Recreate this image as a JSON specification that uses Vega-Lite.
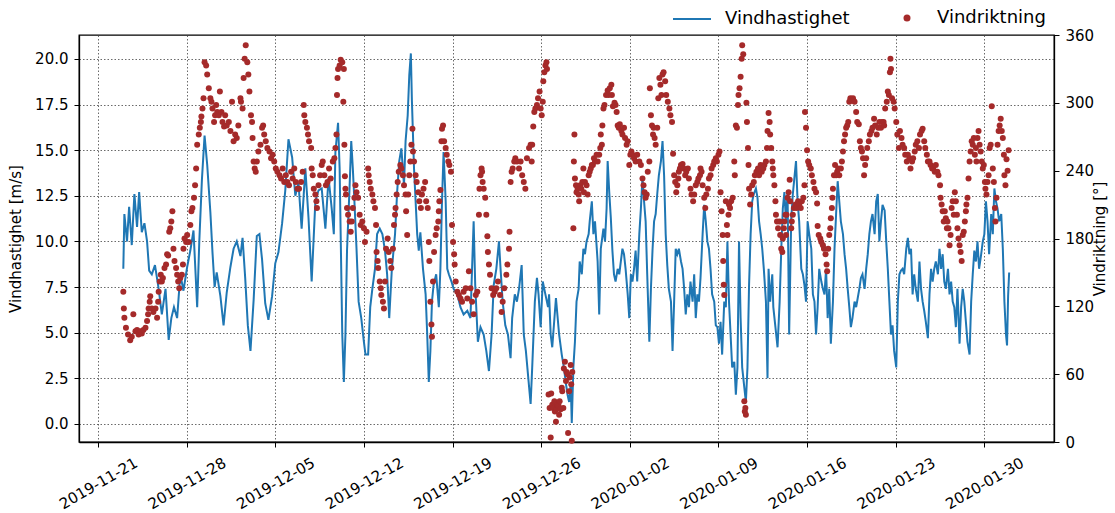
{
"$schema": "https://vega.github.io/schema/vega-lite/v6.json",
"width": 975, "height": 407,
"autosize": {"type": "none"},
"padding": {"left": 79, "top": 35, "right": 61, "bottom": 71},
"background": "white",
"config": {
 "font": "DejaVu Sans",
 "view": {"stroke": "black", "strokeWidth": 1.3},
 "axis": {"labelFont": "DejaVu Sans", "titleFont": "DejaVu Sans", "labelFontSize": 15, "titleFontSize": 15, "titleFontWeight": "normal", "labelColor": "#000", "titleColor": "#000", "tickColor": "#000", "domainColor": "#000", "domainWidth": 1.3, "tickSize": 5, "tickWidth": 1, "labelPadding": 6, "gridColor": "#444", "gridDash": [1.5, 2], "gridWidth": 0.8, "labelOverlap": false, "labelFlush": false},
 "legend": {"labelFont": "DejaVu Sans", "labelFontSize": 18, "labelColor": "#000", "padding": 0}
},
"datasets": {
"ws": [
{"t":"2019-11-23T00:00","v":8.5},{"t":"2019-11-23T02:00","v":11.5},{"t":"2019-11-23T07:00","v":10.0},{"t":"2019-11-23T11:00","v":11.9},{"t":"2019-11-23T16:00","v":9.8},{"t":"2019-11-23T21:00","v":12.6},
{"t":"2019-11-24T02:00","v":10.8},{"t":"2019-11-24T06:00","v":12.7},{"t":"2019-11-24T11:00","v":10.5},{"t":"2019-11-24T16:00","v":11.0},{"t":"2019-11-24T21:00","v":10.0},
{"t":"2019-11-25T01:00","v":8.4},{"t":"2019-11-25T06:00","v":8.2},{"t":"2019-11-25T12:00","v":8.7},{"t":"2019-11-25T19:00","v":7.4},
{"t":"2019-11-26T01:00","v":6.0},{"t":"2019-11-26T08:00","v":7.4},{"t":"2019-11-26T14:00","v":4.6},{"t":"2019-11-26T19:00","v":5.8},
{"t":"2019-11-27T00:00","v":6.4},{"t":"2019-11-27T06:00","v":5.8},{"t":"2019-11-27T12:00","v":8.2},{"t":"2019-11-27T18:00","v":7.3},
{"t":"2019-11-28T01:00","v":8.6},{"t":"2019-11-28T07:00","v":9.5},{"t":"2019-11-28T13:00","v":10.6},{"t":"2019-11-28T20:00","v":6.4},
{"t":"2019-11-29T00:00","v":10.0},{"t":"2019-11-29T05:00","v":13.4},{"t":"2019-11-29T10:00","v":15.8},{"t":"2019-11-29T15:00","v":14.2},{"t":"2019-11-29T21:00","v":11.6},
{"t":"2019-11-30T01:00","v":9.4},{"t":"2019-11-30T05:00","v":7.5},{"t":"2019-11-30T09:00","v":8.3},{"t":"2019-11-30T16:00","v":7.0},{"t":"2019-11-30T22:00","v":5.4},
{"t":"2019-12-01T04:00","v":7.2},{"t":"2019-12-01T11:00","v":8.6},{"t":"2019-12-01T17:00","v":9.6},{"t":"2019-12-01T23:00","v":10.0},
{"t":"2019-12-02T06:00","v":9.2},{"t":"2019-12-02T10:00","v":10.2},{"t":"2019-12-02T15:00","v":8.0},{"t":"2019-12-02T20:00","v":5.4},
{"t":"2019-12-03T01:00","v":4.0},{"t":"2019-12-03T07:00","v":6.8},{"t":"2019-12-03T13:00","v":10.3},{"t":"2019-12-03T18:00","v":10.4},{"t":"2019-12-03T23:00","v":9.0},
{"t":"2019-12-04T05:00","v":6.6},{"t":"2019-12-04T11:00","v":5.7},{"t":"2019-12-04T18:00","v":7.0},
{"t":"2019-12-05T00:00","v":8.8},{"t":"2019-12-05T06:00","v":9.4},{"t":"2019-12-05T13:00","v":11.0},{"t":"2019-12-05T19:00","v":12.8},
{"t":"2019-12-06T01:00","v":15.6},{"t":"2019-12-06T08:00","v":14.6},{"t":"2019-12-06T14:00","v":12.5},{"t":"2019-12-06T20:00","v":13.2},
{"t":"2019-12-07T02:00","v":10.7},{"t":"2019-12-07T09:00","v":14.0},{"t":"2019-12-07T15:00","v":11.3},{"t":"2019-12-07T21:00","v":7.8},
{"t":"2019-12-08T04:00","v":12.2},{"t":"2019-12-08T10:00","v":12.8},{"t":"2019-12-08T16:00","v":12.9},{"t":"2019-12-08T23:00","v":10.7},
{"t":"2019-12-09T05:00","v":13.5},{"t":"2019-12-09T11:00","v":11.8},{"t":"2019-12-09T15:00","v":10.4},{"t":"2019-12-09T18:00","v":14.9},{"t":"2019-12-09T23:00","v":16.5},
{"t":"2019-12-10T02:00","v":14.0},{"t":"2019-12-10T05:00","v":8.5},{"t":"2019-12-10T07:00","v":4.9},{"t":"2019-12-10T10:00","v":2.3},{"t":"2019-12-10T13:00","v":4.9},{"t":"2019-12-10T16:00","v":9.5},{"t":"2019-12-10T21:00","v":13.1},
{"t":"2019-12-11T00:00","v":15.5},{"t":"2019-12-11T03:00","v":14.0},{"t":"2019-12-11T06:00","v":12.2},{"t":"2019-12-11T10:00","v":9.6},{"t":"2019-12-11T14:00","v":6.7},{"t":"2019-12-11T19:00","v":5.8},
{"t":"2019-12-12T00:00","v":4.5},{"t":"2019-12-12T03:00","v":3.8},{"t":"2019-12-12T08:00","v":3.8},{"t":"2019-12-12T12:00","v":6.4},{"t":"2019-12-12T16:00","v":7.4},{"t":"2019-12-12T21:00","v":8.5},
{"t":"2019-12-13T01:00","v":10.4},{"t":"2019-12-13T06:00","v":10.7},{"t":"2019-12-13T11:00","v":10.4},{"t":"2019-12-13T16:00","v":9.5},{"t":"2019-12-13T20:00","v":8.2},
{"t":"2019-12-14T00:00","v":5.8},{"t":"2019-12-14T05:00","v":8.5},{"t":"2019-12-14T11:00","v":10.4},{"t":"2019-12-14T15:00","v":12.7},{"t":"2019-12-14T19:00","v":14.4},{"t":"2019-12-14T23:00","v":15.1},
{"t":"2019-12-15T04:00","v":13.1},{"t":"2019-12-15T07:00","v":15.5},{"t":"2019-12-15T11:00","v":16.9},{"t":"2019-12-15T14:00","v":19.1},{"t":"2019-12-15T17:00","v":20.3},{"t":"2019-12-15T19:00","v":17.7},{"t":"2019-12-15T23:00","v":14.0},
{"t":"2019-12-16T02:00","v":12.2},{"t":"2019-12-16T05:00","v":10.4},{"t":"2019-12-16T08:00","v":9.5},{"t":"2019-12-16T11:00","v":10.5},{"t":"2019-12-16T16:00","v":8.5},{"t":"2019-12-16T21:00","v":7.1},
{"t":"2019-12-17T00:00","v":4.9},{"t":"2019-12-17T03:00","v":2.3},{"t":"2019-12-17T06:00","v":4.0},{"t":"2019-12-17T09:00","v":6.7},{"t":"2019-12-17T12:00","v":7.6},{"t":"2019-12-17T17:00","v":8.2},{"t":"2019-12-17T22:00","v":6.4},
{"t":"2019-12-18T01:00","v":8.5},{"t":"2019-12-18T04:00","v":12.2},{"t":"2019-12-18T07:00","v":14.9},{"t":"2019-12-18T11:00","v":12.2},{"t":"2019-12-18T14:00","v":8.5},{"t":"2019-12-18T17:00","v":8.2},{"t":"2019-12-18T22:00","v":7.8},
{"t":"2019-12-19T02:00","v":7.4},{"t":"2019-12-19T09:00","v":7.1},{"t":"2019-12-19T15:00","v":6.4},{"t":"2019-12-19T21:00","v":6.0},
{"t":"2019-12-20T04:00","v":6.2},{"t":"2019-12-20T10:00","v":5.8},{"t":"2019-12-20T13:00","v":8.5},{"t":"2019-12-20T16:00","v":11.1},{"t":"2019-12-20T19:00","v":7.6},
{"t":"2019-12-21T00:00","v":4.5},{"t":"2019-12-21T05:00","v":5.3},{"t":"2019-12-21T11:00","v":4.9},{"t":"2019-12-21T16:00","v":4.0},{"t":"2019-12-21T21:00","v":2.9},
{"t":"2019-12-22T02:00","v":4.9},{"t":"2019-12-22T06:00","v":7.6},{"t":"2019-12-22T11:00","v":8.5},{"t":"2019-12-22T16:00","v":10.0},{"t":"2019-12-22T19:00","v":8.5},{"t":"2019-12-22T23:00","v":6.7},
{"t":"2019-12-23T04:00","v":5.4},{"t":"2019-12-23T09:00","v":4.9},{"t":"2019-12-23T14:00","v":3.6},{"t":"2019-12-23T17:00","v":5.8},{"t":"2019-12-23T22:00","v":7.1},
{"t":"2019-12-24T02:00","v":6.7},{"t":"2019-12-24T06:00","v":7.4},{"t":"2019-12-24T11:00","v":8.7},{"t":"2019-12-24T15:00","v":4.9},{"t":"2019-12-24T19:00","v":4.0},{"t":"2019-12-24T23:00","v":2.7},
{"t":"2019-12-25T04:00","v":1.1},{"t":"2019-12-25T07:00","v":3.1},{"t":"2019-12-25T12:00","v":6.7},{"t":"2019-12-25T16:00","v":8.0},{"t":"2019-12-25T19:00","v":7.1},{"t":"2019-12-25T23:00","v":5.3},
{"t":"2019-12-26T03:00","v":7.8},{"t":"2019-12-26T08:00","v":7.1},{"t":"2019-12-26T13:00","v":6.4},{"t":"2019-12-26T15:00","v":7.1},{"t":"2019-12-26T18:00","v":4.9},{"t":"2019-12-26T21:00","v":4.2},
{"t":"2019-12-27T04:00","v":6.9},{"t":"2019-12-27T10:00","v":4.9},{"t":"2019-12-27T15:00","v":3.8},{"t":"2019-12-27T19:00","v":3.1},{"t":"2019-12-27T23:00","v":2.2},
{"t":"2019-12-28T02:00","v":1.6},{"t":"2019-12-28T05:00","v":1.2},{"t":"2019-12-28T08:00","v":2.2},{"t":"2019-12-28T10:00","v":0.05},{"t":"2019-12-28T13:00","v":3.1},{"t":"2019-12-28T16:00","v":4.5},{"t":"2019-12-28T19:00","v":6.7},{"t":"2019-12-28T23:00","v":7.4},
{"t":"2019-12-29T01:00","v":8.9},{"t":"2019-12-29T05:00","v":8.2},{"t":"2019-12-29T08:00","v":9.6},{"t":"2019-12-29T11:00","v":9.3},{"t":"2019-12-29T14:00","v":10.0},{"t":"2019-12-29T18:00","v":10.4},{"t":"2019-12-29T20:00","v":11.1},
{"t":"2019-12-30T00:00","v":12.2},{"t":"2019-12-30T03:00","v":10.4},{"t":"2019-12-30T06:00","v":11.1},{"t":"2019-12-30T11:00","v":8.9},{"t":"2019-12-30T14:00","v":6.0},{"t":"2019-12-30T17:00","v":9.6},{"t":"2019-12-30T22:00","v":10.7},
{"t":"2019-12-31T01:00","v":10.0},{"t":"2019-12-31T04:00","v":11.8},{"t":"2019-12-31T06:00","v":14.4},{"t":"2019-12-31T09:00","v":12.7},{"t":"2019-12-31T12:00","v":11.3},{"t":"2019-12-31T15:00","v":9.5},{"t":"2019-12-31T18:00","v":8.2},{"t":"2019-12-31T21:00","v":7.8},
{"t":"2020-01-01T01:00","v":8.5},{"t":"2020-01-01T04:00","v":8.2},{"t":"2020-01-01T07:00","v":8.9},{"t":"2020-01-01T10:00","v":9.6},{"t":"2020-01-01T13:00","v":9.3},{"t":"2020-01-01T16:00","v":8.5},{"t":"2020-01-01T20:00","v":7.1},{"t":"2020-01-01T23:00","v":5.8},
{"t":"2020-01-02T02:00","v":8.2},{"t":"2020-01-02T05:00","v":7.8},{"t":"2020-01-02T08:00","v":8.5},{"t":"2020-01-02T11:00","v":9.5},{"t":"2020-01-02T14:00","v":7.8},{"t":"2020-01-02T18:00","v":10.4},{"t":"2020-01-02T21:00","v":11.8},
{"t":"2020-01-03T00:00","v":13.5},{"t":"2020-01-03T03:00","v":12.2},{"t":"2020-01-03T06:00","v":11.1},{"t":"2020-01-03T09:00","v":8.2},{"t":"2020-01-03T13:00","v":4.5},{"t":"2020-01-03T16:00","v":7.4},{"t":"2020-01-03T19:00","v":9.5},{"t":"2020-01-03T22:00","v":11.1},
{"t":"2020-01-04T01:00","v":11.5},{"t":"2020-01-04T04:00","v":12.6},{"t":"2020-01-04T07:00","v":13.6},{"t":"2020-01-04T11:00","v":14.4},{"t":"2020-01-04T14:00","v":15.5},{"t":"2020-01-04T17:00","v":13.6},{"t":"2020-01-04T20:00","v":10.4},{"t":"2020-01-04T23:00","v":8.7},
{"t":"2020-01-05T02:00","v":7.4},{"t":"2020-01-05T06:00","v":6.7},{"t":"2020-01-05T09:00","v":4.0},{"t":"2020-01-05T12:00","v":6.7},{"t":"2020-01-05T15:00","v":9.6},{"t":"2020-01-05T18:00","v":9.3},{"t":"2020-01-05T21:00","v":9.6},
{"t":"2020-01-06T01:00","v":8.9},{"t":"2020-01-06T04:00","v":8.5},{"t":"2020-01-06T07:00","v":7.4},{"t":"2020-01-06T10:00","v":6.0},{"t":"2020-01-06T13:00","v":7.1},{"t":"2020-01-06T16:00","v":6.4},{"t":"2020-01-06T19:00","v":7.8},{"t":"2020-01-06T23:00","v":6.7},
{"t":"2020-01-07T02:00","v":8.2},{"t":"2020-01-07T05:00","v":5.8},{"t":"2020-01-07T08:00","v":7.1},{"t":"2020-01-07T11:00","v":6.7},{"t":"2020-01-07T14:00","v":8.0},{"t":"2020-01-07T18:00","v":10.4},{"t":"2020-01-07T21:00","v":12.0},
{"t":"2020-01-08T00:00","v":11.1},{"t":"2020-01-08T03:00","v":10.0},{"t":"2020-01-08T06:00","v":9.6},{"t":"2020-01-08T09:00","v":8.5},{"t":"2020-01-08T12:00","v":7.1},{"t":"2020-01-08T16:00","v":6.7},{"t":"2020-01-08T19:00","v":5.4},{"t":"2020-01-08T22:00","v":5.3},
{"t":"2020-01-09T01:00","v":4.4},{"t":"2020-01-09T04:00","v":5.6},{"t":"2020-01-09T07:00","v":3.8},{"t":"2020-01-09T11:00","v":6.7},{"t":"2020-01-09T14:00","v":6.4},{"t":"2020-01-09T17:00","v":10.0},{"t":"2020-01-09T20:00","v":6.7},{"t":"2020-01-09T23:00","v":4.9},
{"t":"2020-01-10T02:00","v":3.1},{"t":"2020-01-10T06:00","v":3.4},{"t":"2020-01-10T09:00","v":1.6},{"t":"2020-01-10T12:00","v":3.1},{"t":"2020-01-10T15:00","v":10.0},{"t":"2020-01-10T18:00","v":5.8},{"t":"2020-01-10T21:00","v":3.1},
{"t":"2020-01-11T01:00","v":2.0},{"t":"2020-01-11T04:00","v":1.2},{"t":"2020-01-11T07:00","v":3.1},{"t":"2020-01-11T10:00","v":7.6},{"t":"2020-01-11T13:00","v":10.4},{"t":"2020-01-11T16:00","v":12.2},{"t":"2020-01-11T19:00","v":12.6},{"t":"2020-01-11T23:00","v":12.9},
{"t":"2020-01-12T02:00","v":12.4},{"t":"2020-01-12T05:00","v":11.1},{"t":"2020-01-12T08:00","v":10.4},{"t":"2020-01-12T11:00","v":9.6},{"t":"2020-01-12T14:00","v":8.5},{"t":"2020-01-12T18:00","v":6.7},{"t":"2020-01-12T21:00","v":2.5},{"t":"2020-01-12T23:00","v":8.5},
{"t":"2020-01-13T02:00","v":6.7},{"t":"2020-01-13T06:00","v":8.2},{"t":"2020-01-13T08:00","v":6.4},{"t":"2020-01-13T12:00","v":5.3},{"t":"2020-01-13T16:00","v":4.2},{"t":"2020-01-13T20:00","v":6.7},{"t":"2020-01-13T23:00","v":9.5},
{"t":"2020-01-14T02:00","v":11.8},{"t":"2020-01-14T05:00","v":12.7},{"t":"2020-01-14T08:00","v":11.1},{"t":"2020-01-14T11:00","v":12.7},{"t":"2020-01-14T14:00","v":4.9},{"t":"2020-01-14T18:00","v":11.3},{"t":"2020-01-14T21:00","v":12.6},
{"t":"2020-01-15T00:00","v":13.5},{"t":"2020-01-15T03:00","v":14.4},{"t":"2020-01-15T06:00","v":12.2},{"t":"2020-01-15T09:00","v":11.1},{"t":"2020-01-15T13:00","v":8.5},{"t":"2020-01-15T16:00","v":8.2},{"t":"2020-01-15T19:00","v":7.6},{"t":"2020-01-15T22:00","v":6.7},
{"t":"2020-01-16T01:00","v":11.1},{"t":"2020-01-16T04:00","v":10.4},{"t":"2020-01-16T08:00","v":9.6},{"t":"2020-01-16T11:00","v":7.1},{"t":"2020-01-16T14:00","v":6.7},{"t":"2020-01-16T17:00","v":4.9},{"t":"2020-01-16T20:00","v":6.4},{"t":"2020-01-16T23:00","v":8.5},
{"t":"2020-01-17T03:00","v":7.8},{"t":"2020-01-17T06:00","v":7.4},{"t":"2020-01-17T09:00","v":7.1},{"t":"2020-01-17T12:00","v":8.5},{"t":"2020-01-17T15:00","v":5.8},{"t":"2020-01-17T18:00","v":7.4},{"t":"2020-01-17T21:00","v":4.4},
{"t":"2020-01-18T01:00","v":6.7},{"t":"2020-01-18T04:00","v":9.6},{"t":"2020-01-18T07:00","v":11.5},{"t":"2020-01-18T10:00","v":13.3},{"t":"2020-01-18T13:00","v":12.2},{"t":"2020-01-18T16:00","v":11.1},{"t":"2020-01-18T20:00","v":10.4},{"t":"2020-01-18T23:00","v":9.3},
{"t":"2020-01-19T02:00","v":8.5},{"t":"2020-01-19T05:00","v":7.4},{"t":"2020-01-19T08:00","v":6.4},{"t":"2020-01-19T11:00","v":5.3},{"t":"2020-01-19T14:00","v":5.8},{"t":"2020-01-19T18:00","v":6.7},{"t":"2020-01-19T21:00","v":6.4},
{"t":"2020-01-20T00:00","v":6.9},{"t":"2020-01-20T03:00","v":7.4},{"t":"2020-01-20T06:00","v":8.0},{"t":"2020-01-20T09:00","v":8.2},{"t":"2020-01-20T13:00","v":7.4},{"t":"2020-01-20T16:00","v":8.5},{"t":"2020-01-20T19:00","v":9.3},{"t":"2020-01-20T22:00","v":10.4},
{"t":"2020-01-21T01:00","v":11.1},{"t":"2020-01-21T04:00","v":11.5},{"t":"2020-01-21T08:00","v":10.4},{"t":"2020-01-21T11:00","v":12.2},{"t":"2020-01-21T14:00","v":12.6},{"t":"2020-01-21T17:00","v":10.0},{"t":"2020-01-21T20:00","v":11.1},{"t":"2020-01-21T23:00","v":12.0},
{"t":"2020-01-22T03:00","v":11.7},{"t":"2020-01-22T06:00","v":10.0},{"t":"2020-01-22T09:00","v":8.5},{"t":"2020-01-22T12:00","v":6.7},{"t":"2020-01-22T15:00","v":4.9},{"t":"2020-01-22T18:00","v":5.4},{"t":"2020-01-22T21:00","v":4.0},
{"t":"2020-01-23T01:00","v":3.1},{"t":"2020-01-23T04:00","v":6.7},{"t":"2020-01-23T07:00","v":8.2},{"t":"2020-01-23T10:00","v":8.4},{"t":"2020-01-23T13:00","v":8.5},{"t":"2020-01-23T16:00","v":8.2},{"t":"2020-01-23T20:00","v":9.6},{"t":"2020-01-23T23:00","v":10.2},
{"t":"2020-01-24T02:00","v":9.3},{"t":"2020-01-24T05:00","v":9.6},{"t":"2020-01-24T08:00","v":7.1},{"t":"2020-01-24T11:00","v":8.2},{"t":"2020-01-24T14:00","v":7.4},{"t":"2020-01-24T18:00","v":6.7},{"t":"2020-01-24T21:00","v":8.9},
{"t":"2020-01-25T00:00","v":7.4},{"t":"2020-01-25T03:00","v":6.7},{"t":"2020-01-25T06:00","v":6.2},{"t":"2020-01-25T09:00","v":5.6},{"t":"2020-01-25T13:00","v":4.7},{"t":"2020-01-25T16:00","v":7.1},{"t":"2020-01-25T19:00","v":8.5},{"t":"2020-01-25T22:00","v":7.8},
{"t":"2020-01-26T01:00","v":8.5},{"t":"2020-01-26T04:00","v":8.9},{"t":"2020-01-26T08:00","v":8.2},{"t":"2020-01-26T11:00","v":9.6},{"t":"2020-01-26T14:00","v":8.5},{"t":"2020-01-26T17:00","v":9.3},{"t":"2020-01-26T20:00","v":7.8},{"t":"2020-01-26T23:00","v":7.4},
{"t":"2020-01-27T03:00","v":8.5},{"t":"2020-01-27T06:00","v":7.1},{"t":"2020-01-27T09:00","v":7.8},{"t":"2020-01-27T12:00","v":6.7},{"t":"2020-01-27T15:00","v":6.4},{"t":"2020-01-27T18:00","v":5.3},{"t":"2020-01-27T21:00","v":7.4},
{"t":"2020-01-28T01:00","v":4.4},{"t":"2020-01-28T04:00","v":6.4},{"t":"2020-01-28T07:00","v":7.4},{"t":"2020-01-28T10:00","v":6.7},{"t":"2020-01-28T13:00","v":5.6},{"t":"2020-01-28T16:00","v":4.5},{"t":"2020-01-28T20:00","v":3.8},{"t":"2020-01-28T23:00","v":6.7},
{"t":"2020-01-29T02:00","v":8.2},{"t":"2020-01-29T05:00","v":9.5},{"t":"2020-01-29T08:00","v":8.9},{"t":"2020-01-29T11:00","v":10.0},{"t":"2020-01-29T14:00","v":8.5},{"t":"2020-01-29T18:00","v":9.3},{"t":"2020-01-29T21:00","v":10.0},
{"t":"2020-01-30T00:00","v":10.4},{"t":"2020-01-30T03:00","v":12.2},{"t":"2020-01-30T06:00","v":11.1},{"t":"2020-01-30T09:00","v":9.3},{"t":"2020-01-30T13:00","v":11.5},{"t":"2020-01-30T16:00","v":10.4},{"t":"2020-01-30T19:00","v":12.9},{"t":"2020-01-30T22:00","v":12.2},
{"t":"2020-01-31T01:00","v":11.8},{"t":"2020-01-31T04:00","v":11.1},{"t":"2020-01-31T08:00","v":11.5},{"t":"2020-01-31T11:00","v":9.6},{"t":"2020-01-31T14:00","v":6.7},{"t":"2020-01-31T17:00","v":4.9},{"t":"2020-01-31T19:00","v":4.3},{"t":"2020-01-31T21:00","v":7.0},{"t":"2020-01-31T23:00","v":8.3}
],
"wd": [
{"t":"2019-11-23T00:00","d":133},{"t":"2019-11-23T01:00","d":118},{"t":"2019-11-23T02:00","d":110},{"t":"2019-11-23T05:00","d":101},{"t":"2019-11-23T09:00","d":95},{"t":"2019-11-23T13:00","d":90},{"t":"2019-11-23T16:00","d":93},{"t":"2019-11-23T19:00","d":113},{"t":"2019-11-23T23:00","d":98},
{"t":"2019-11-24T02:00","d":99},{"t":"2019-11-24T05:00","d":95},{"t":"2019-11-24T08:00","d":98},{"t":"2019-11-24T11:00","d":96},{"t":"2019-11-24T14:00","d":99},{"t":"2019-11-24T18:00","d":101},{"t":"2019-11-24T21:00","d":107},{"t":"2019-11-24T23:00","d":113},
{"t":"2019-11-25T00:00","d":118},{"t":"2019-11-25T02:00","d":124},{"t":"2019-11-25T03:00","d":129},{"t":"2019-11-25T06:00","d":118},{"t":"2019-11-25T09:00","d":115},{"t":"2019-11-25T13:00","d":118},{"t":"2019-11-25T16:00","d":110},{"t":"2019-11-25T18:00","d":124},{"t":"2019-11-25T19:00","d":133},{"t":"2019-11-25T21:00","d":142},{"t":"2019-11-25T23:00","d":148},
{"t":"2019-11-26T01:00","d":142},{"t":"2019-11-26T03:00","d":145},{"t":"2019-11-26T06:00","d":154},{"t":"2019-11-26T09:00","d":157},{"t":"2019-11-26T11:00","d":166},{"t":"2019-11-26T13:00","d":165},{"t":"2019-11-26T15:00","d":186},{"t":"2019-11-26T17:00","d":189},{"t":"2019-11-26T19:00","d":195},{"t":"2019-11-26T21:00","d":204},{"t":"2019-11-26T23:00","d":171},
{"t":"2019-11-27T01:00","d":160},{"t":"2019-11-27T04:00","d":154},{"t":"2019-11-27T06:00","d":148},{"t":"2019-11-27T08:00","d":142},{"t":"2019-11-27T10:00","d":136},{"t":"2019-11-27T12:00","d":145},{"t":"2019-11-27T15:00","d":148},{"t":"2019-11-27T17:00","d":157},{"t":"2019-11-27T18:00","d":171},{"t":"2019-11-27T20:00","d":180},{"t":"2019-11-27T23:00","d":177},
{"t":"2019-11-28T01:00","d":183},{"t":"2019-11-28T04:00","d":177},{"t":"2019-11-28T07:00","d":192},{"t":"2019-11-28T09:00","d":204},{"t":"2019-11-28T11:00","d":207},{"t":"2019-11-28T14:00","d":216},{"t":"2019-11-28T16:00","d":227},{"t":"2019-11-28T18:00","d":242},{"t":"2019-11-28T20:00","d":263},{"t":"2019-11-28T23:00","d":272},
{"t":"2019-11-29T01:00","d":278},{"t":"2019-11-29T03:00","d":283},{"t":"2019-11-29T04:00","d":288},{"t":"2019-11-29T06:00","d":295},{"t":"2019-11-29T08:00","d":304},{"t":"2019-11-29T10:00","d":336},{"t":"2019-11-29T13:00","d":333},{"t":"2019-11-29T15:00","d":325},{"t":"2019-11-29T18:00","d":313},{"t":"2019-11-29T21:00","d":304},{"t":"2019-11-29T23:00","d":301},
{"t":"2019-11-30T01:00","d":295},{"t":"2019-11-30T04:00","d":283},{"t":"2019-11-30T06:00","d":289},{"t":"2019-11-30T08:00","d":298},{"t":"2019-11-30T10:00","d":292},{"t":"2019-11-30T13:00","d":289},{"t":"2019-11-30T15:00","d":310},{"t":"2019-11-30T18:00","d":292},{"t":"2019-11-30T20:00","d":283},{"t":"2019-11-30T23:00","d":279},
{"t":"2019-12-01T01:00","d":289},{"t":"2019-12-01T04:00","d":280},{"t":"2019-12-01T08:00","d":283},{"t":"2019-12-01T11:00","d":275},{"t":"2019-12-01T14:00","d":301},{"t":"2019-12-01T17:00","d":266},{"t":"2019-12-01T20:00","d":272},{"t":"2019-12-01T23:00","d":269},
{"t":"2019-12-02T02:00","d":280},{"t":"2019-12-02T06:00","d":304},{"t":"2019-12-02T07:00","d":301},{"t":"2019-12-02T10:00","d":295},{"t":"2019-12-02T12:00","d":322},{"t":"2019-12-02T14:00","d":339},{"t":"2019-12-02T16:00","d":351},{"t":"2019-12-02T19:00","d":336},{"t":"2019-12-02T21:00","d":325},{"t":"2019-12-02T23:00","d":310},
{"t":"2019-12-03T02:00","d":289},{"t":"2019-12-03T04:00","d":283},{"t":"2019-12-03T05:00","d":269},{"t":"2019-12-03T07:00","d":248},{"t":"2019-12-03T09:00","d":242},{"t":"2019-12-03T11:00","d":239},{"t":"2019-12-03T13:00","d":248},{"t":"2019-12-03T16:00","d":257},{"t":"2019-12-03T20:00","d":263},{"t":"2019-12-03T23:00","d":278},
{"t":"2019-12-04T01:00","d":280},{"t":"2019-12-04T03:00","d":272},{"t":"2019-12-04T06:00","d":266},{"t":"2019-12-04T09:00","d":260},{"t":"2019-12-04T13:00","d":257},{"t":"2019-12-04T16:00","d":251},{"t":"2019-12-04T19:00","d":254},{"t":"2019-12-04T22:00","d":248},
{"t":"2019-12-05T01:00","d":242},{"t":"2019-12-05T04:00","d":239},{"t":"2019-12-05T08:00","d":236},{"t":"2019-12-05T11:00","d":233},{"t":"2019-12-05T14:00","d":242},{"t":"2019-12-05T17:00","d":230},{"t":"2019-12-05T20:00","d":236},{"t":"2019-12-05T23:00","d":230},
{"t":"2019-12-06T02:00","d":227},{"t":"2019-12-06T06:00","d":239},{"t":"2019-12-06T09:00","d":233},{"t":"2019-12-06T12:00","d":242},{"t":"2019-12-06T15:00","d":230},{"t":"2019-12-06T18:00","d":224},{"t":"2019-12-06T21:00","d":224},
{"t":"2019-12-07T01:00","d":230},{"t":"2019-12-07T04:00","d":239},{"t":"2019-12-07T06:00","d":298},{"t":"2019-12-07T07:00","d":289},{"t":"2019-12-07T09:00","d":283},{"t":"2019-12-07T12:00","d":278},{"t":"2019-12-07T14:00","d":272},{"t":"2019-12-07T16:00","d":266},{"t":"2019-12-07T20:00","d":260},{"t":"2019-12-07T21:00","d":242},{"t":"2019-12-07T23:00","d":236},
{"t":"2019-12-08T01:00","d":224},{"t":"2019-12-08T04:00","d":219},{"t":"2019-12-08T06:00","d":213},{"t":"2019-12-08T07:00","d":207},{"t":"2019-12-08T10:00","d":227},{"t":"2019-12-08T13:00","d":236},{"t":"2019-12-08T16:00","d":245},{"t":"2019-12-08T18:00","d":248},{"t":"2019-12-08T21:00","d":236},
{"t":"2019-12-09T00:00","d":227},{"t":"2019-12-09T03:00","d":230},{"t":"2019-12-09T06:00","d":242},{"t":"2019-12-09T09:00","d":233},{"t":"2019-12-09T13:00","d":248},{"t":"2019-12-09T16:00","d":251},{"t":"2019-12-09T18:00","d":260},{"t":"2019-12-09T20:00","d":272},{"t":"2019-12-09T21:00","d":307},{"t":"2019-12-09T22:00","d":322},{"t":"2019-12-09T23:00","d":330},
{"t":"2019-12-10T02:00","d":333},{"t":"2019-12-10T04:00","d":338},{"t":"2019-12-10T07:00","d":336},{"t":"2019-12-10T10:00","d":330},{"t":"2019-12-10T09:00","d":301},{"t":"2019-12-10T11:00","d":263},{"t":"2019-12-10T12:00","d":235},{"t":"2019-12-10T13:00","d":224},{"t":"2019-12-10T14:00","d":219},{"t":"2019-12-10T16:00","d":207},{"t":"2019-12-10T18:00","d":201},{"t":"2019-12-10T21:00","d":195},{"t":"2019-12-10T23:00","d":186},
{"t":"2019-12-11T01:00","d":195},{"t":"2019-12-11T03:00","d":207},{"t":"2019-12-11T06:00","d":216},{"t":"2019-12-11T08:00","d":227},{"t":"2019-12-11T10:00","d":221},{"t":"2019-12-11T13:00","d":216},{"t":"2019-12-11T16:00","d":201},{"t":"2019-12-11T18:00","d":192},{"t":"2019-12-11T21:00","d":195},
{"t":"2019-12-12T00:00","d":189},{"t":"2019-12-12T02:00","d":177},{"t":"2019-12-12T05:00","d":186},{"t":"2019-12-12T08:00","d":242},{"t":"2019-12-12T09:00","d":236},{"t":"2019-12-12T11:00","d":230},{"t":"2019-12-12T13:00","d":224},{"t":"2019-12-12T16:00","d":219},{"t":"2019-12-12T18:00","d":213},{"t":"2019-12-12T21:00","d":207},{"t":"2019-12-12T23:00","d":192},
{"t":"2019-12-13T00:00","d":168},{"t":"2019-12-13T02:00","d":160},{"t":"2019-12-13T03:00","d":154},{"t":"2019-12-13T06:00","d":142},{"t":"2019-12-13T08:00","d":136},{"t":"2019-12-13T09:00","d":130},{"t":"2019-12-13T12:00","d":124},{"t":"2019-12-13T14:00","d":118},{"t":"2019-12-13T16:00","d":142},{"t":"2019-12-13T18:00","d":171},{"t":"2019-12-13T21:00","d":180},{"t":"2019-12-13T23:00","d":168},
{"t":"2019-12-14T02:00","d":160},{"t":"2019-12-14T04:00","d":154},{"t":"2019-12-14T07:00","d":171},{"t":"2019-12-14T09:00","d":192},{"t":"2019-12-14T11:00","d":201},{"t":"2019-12-14T12:00","d":207},{"t":"2019-12-14T14:00","d":219},{"t":"2019-12-14T16:00","d":230},{"t":"2019-12-14T18:00","d":239},{"t":"2019-12-14T21:00","d":245},{"t":"2019-12-14T23:00","d":242},
{"t":"2019-12-15T02:00","d":236},{"t":"2019-12-15T04:00","d":227},{"t":"2019-12-15T07:00","d":219},{"t":"2019-12-15T08:00","d":204},{"t":"2019-12-15T10:00","d":183},{"t":"2019-12-15T12:00","d":219},{"t":"2019-12-15T14:00","d":236},{"t":"2019-12-15T16:00","d":248},{"t":"2019-12-15T18:00","d":263},{"t":"2019-12-15T20:00","d":277},{"t":"2019-12-15T21:00","d":257},{"t":"2019-12-15T23:00","d":248},
{"t":"2019-12-16T02:00","d":236},{"t":"2019-12-16T04:00","d":230},{"t":"2019-12-16T07:00","d":221},{"t":"2019-12-16T09:00","d":213},{"t":"2019-12-16T12:00","d":207},{"t":"2019-12-16T14:00","d":219},{"t":"2019-12-16T17:00","d":224},{"t":"2019-12-16T20:00","d":230},{"t":"2019-12-16T22:00","d":213},
{"t":"2019-12-17T01:00","d":207},{"t":"2019-12-17T03:00","d":177},{"t":"2019-12-17T04:00","d":160},{"t":"2019-12-17T06:00","d":124},{"t":"2019-12-17T08:00","d":104},{"t":"2019-12-17T09:00","d":93},{"t":"2019-12-17T11:00","d":142},{"t":"2019-12-17T13:00","d":168},{"t":"2019-12-17T16:00","d":183},{"t":"2019-12-17T18:00","d":189},{"t":"2019-12-17T21:00","d":195},{"t":"2019-12-17T22:00","d":204},{"t":"2019-12-17T23:00","d":213},
{"t":"2019-12-18T01:00","d":223},{"t":"2019-12-18T03:00","d":266},{"t":"2019-12-18T04:00","d":277},{"t":"2019-12-18T06:00","d":280},{"t":"2019-12-18T08:00","d":266},{"t":"2019-12-18T11:00","d":260},{"t":"2019-12-18T13:00","d":254},{"t":"2019-12-18T16:00","d":248},{"t":"2019-12-18T18:00","d":245},{"t":"2019-12-18T21:00","d":239},{"t":"2019-12-18T23:00","d":192},
{"t":"2019-12-19T01:00","d":177},{"t":"2019-12-19T03:00","d":166},{"t":"2019-12-19T04:00","d":157},{"t":"2019-12-19T06:00","d":142},{"t":"2019-12-19T09:00","d":133},{"t":"2019-12-19T12:00","d":130},{"t":"2019-12-19T15:00","d":127},{"t":"2019-12-19T18:00","d":124},{"t":"2019-12-19T21:00","d":133},
{"t":"2019-12-20T01:00","d":136},{"t":"2019-12-20T04:00","d":127},{"t":"2019-12-20T07:00","d":151},{"t":"2019-12-20T10:00","d":136},{"t":"2019-12-20T13:00","d":124},{"t":"2019-12-20T16:00","d":113},{"t":"2019-12-20T20:00","d":130},{"t":"2019-12-20T23:00","d":133},
{"t":"2019-12-21T02:00","d":201},{"t":"2019-12-21T03:00","d":224},{"t":"2019-12-21T05:00","d":236},{"t":"2019-12-21T07:00","d":242},{"t":"2019-12-21T08:00","d":239},{"t":"2019-12-21T09:00","d":230},{"t":"2019-12-21T11:00","d":224},{"t":"2019-12-21T14:00","d":216},{"t":"2019-12-21T16:00","d":201},{"t":"2019-12-21T18:00","d":182},{"t":"2019-12-21T19:00","d":168},{"t":"2019-12-21T21:00","d":157},{"t":"2019-12-21T23:00","d":148},
{"t":"2019-12-22T02:00","d":136},{"t":"2019-12-22T05:00","d":130},{"t":"2019-12-22T08:00","d":133},{"t":"2019-12-22T11:00","d":136},{"t":"2019-12-22T14:00","d":142},{"t":"2019-12-22T18:00","d":130},{"t":"2019-12-22T21:00","d":115},{"t":"2019-12-22T23:00","d":124},
{"t":"2019-12-23T02:00","d":136},{"t":"2019-12-23T06:00","d":148},{"t":"2019-12-23T08:00","d":157},{"t":"2019-12-23T11:00","d":171},{"t":"2019-12-23T12:00","d":186},{"t":"2019-12-23T14:00","d":230},{"t":"2019-12-23T16:00","d":239},{"t":"2019-12-23T18:00","d":242},{"t":"2019-12-23T21:00","d":248},{"t":"2019-12-23T23:00","d":251},
{"t":"2019-12-24T02:00","d":248},{"t":"2019-12-24T06:00","d":242},{"t":"2019-12-24T09:00","d":248},{"t":"2019-12-24T12:00","d":236},{"t":"2019-12-24T15:00","d":230},{"t":"2019-12-24T18:00","d":224},{"t":"2019-12-24T21:00","d":251},
{"t":"2019-12-25T01:00","d":260},{"t":"2019-12-25T04:00","d":263},{"t":"2019-12-25T06:00","d":248},{"t":"2019-12-25T07:00","d":263},{"t":"2019-12-25T09:00","d":279},{"t":"2019-12-25T11:00","d":292},{"t":"2019-12-25T13:00","d":295},{"t":"2019-12-25T16:00","d":298},{"t":"2019-12-25T18:00","d":304},{"t":"2019-12-25T21:00","d":310},{"t":"2019-12-25T23:00","d":295},
{"t":"2019-12-26T01:00","d":289},{"t":"2019-12-26T03:00","d":301},{"t":"2019-12-26T04:00","d":319},{"t":"2019-12-26T06:00","d":327},{"t":"2019-12-26T08:00","d":333},{"t":"2019-12-26T10:00","d":336},{"t":"2019-12-26T11:00","d":330},{"t":"2019-12-26T14:00","d":42},{"t":"2019-12-26T16:00","d":30},{"t":"2019-12-26T18:00","d":4},{"t":"2019-12-26T19:00","d":43},{"t":"2019-12-26T21:00","d":33},{"t":"2019-12-26T23:00","d":30},
{"t":"2019-12-27T01:00","d":36},{"t":"2019-12-27T02:00","d":27},{"t":"2019-12-27T04:00","d":18},{"t":"2019-12-27T05:00","d":29},{"t":"2019-12-27T07:00","d":33},{"t":"2019-12-27T09:00","d":32},{"t":"2019-12-27T10:00","d":24},{"t":"2019-12-27T11:00","d":36},{"t":"2019-12-27T13:00","d":29},{"t":"2019-12-27T15:00","d":48},{"t":"2019-12-27T16:00","d":45},{"t":"2019-12-27T18:00","d":30},{"t":"2019-12-27T19:00","d":65},{"t":"2019-12-27T21:00","d":71},{"t":"2019-12-27T23:00","d":54},
{"t":"2019-12-28T00:00","d":62},{"t":"2019-12-28T02:00","d":60},{"t":"2019-12-28T03:00","d":8},{"t":"2019-12-28T05:00","d":45},{"t":"2019-12-28T06:00","d":57},{"t":"2019-12-28T08:00","d":68},{"t":"2019-12-28T09:00","d":51},{"t":"2019-12-28T10:00","d":1},{"t":"2019-12-28T11:00","d":62},{"t":"2019-12-28T13:00","d":189},{"t":"2019-12-28T14:00","d":248},{"t":"2019-12-28T15:00","d":272},{"t":"2019-12-28T16:00","d":233},{"t":"2019-12-28T18:00","d":227},{"t":"2019-12-28T19:00","d":221},{"t":"2019-12-28T21:00","d":224},{"t":"2019-12-28T23:00","d":219},
{"t":"2019-12-29T00:00","d":213},{"t":"2019-12-29T02:00","d":227},{"t":"2019-12-29T04:00","d":224},{"t":"2019-12-29T06:00","d":230},{"t":"2019-12-29T08:00","d":242},{"t":"2019-12-29T09:00","d":221},{"t":"2019-12-29T11:00","d":230},{"t":"2019-12-29T14:00","d":227},{"t":"2019-12-29T16:00","d":219},{"t":"2019-12-29T18:00","d":236},{"t":"2019-12-29T20:00","d":239},{"t":"2019-12-29T22:00","d":242},
{"t":"2019-12-30T00:00","d":245},{"t":"2019-12-30T02:00","d":245},{"t":"2019-12-30T04:00","d":251},{"t":"2019-12-30T06:00","d":248},{"t":"2019-12-30T09:00","d":254},{"t":"2019-12-30T11:00","d":248},{"t":"2019-12-30T14:00","d":254},{"t":"2019-12-30T16:00","d":260},{"t":"2019-12-30T17:00","d":272},{"t":"2019-12-30T19:00","d":263},{"t":"2019-12-30T20:00","d":280},{"t":"2019-12-30T22:00","d":295},
{"t":"2019-12-31T00:00","d":298},{"t":"2019-12-31T03:00","d":307},{"t":"2019-12-31T06:00","d":311},{"t":"2019-12-31T08:00","d":307},{"t":"2019-12-31T10:00","d":313},{"t":"2019-12-31T13:00","d":316},{"t":"2019-12-31T14:00","d":307},{"t":"2019-12-31T16:00","d":297},{"t":"2019-12-31T19:00","d":300},{"t":"2019-12-31T21:00","d":298},{"t":"2019-12-31T23:00","d":292},
{"t":"2020-01-01T01:00","d":280},{"t":"2020-01-01T03:00","d":278},{"t":"2020-01-01T05:00","d":281},{"t":"2020-01-01T08:00","d":275},{"t":"2020-01-01T10:00","d":272},{"t":"2020-01-01T13:00","d":278},{"t":"2020-01-01T15:00","d":269},{"t":"2020-01-01T18:00","d":263},{"t":"2020-01-01T20:00","d":266},{"t":"2020-01-01T23:00","d":245},
{"t":"2020-01-02T01:00","d":254},{"t":"2020-01-02T03:00","d":257},{"t":"2020-01-02T05:00","d":254},{"t":"2020-01-02T08:00","d":251},{"t":"2020-01-02T11:00","d":248},{"t":"2020-01-02T14:00","d":254},{"t":"2020-01-02T18:00","d":248},{"t":"2020-01-02T21:00","d":245},
{"t":"2020-01-03T00:00","d":233},{"t":"2020-01-03T02:00","d":227},{"t":"2020-01-03T04:00","d":221},{"t":"2020-01-03T06:00","d":216},{"t":"2020-01-03T08:00","d":219},{"t":"2020-01-03T10:00","d":239},{"t":"2020-01-03T13:00","d":248},{"t":"2020-01-03T14:00","d":313},{"t":"2020-01-03T16:00","d":289},{"t":"2020-01-03T18:00","d":280},{"t":"2020-01-03T20:00","d":272},{"t":"2020-01-03T21:00","d":278},{"t":"2020-01-03T23:00","d":269},
{"t":"2020-01-04T01:00","d":263},{"t":"2020-01-04T04:00","d":278},{"t":"2020-01-04T06:00","d":304},{"t":"2020-01-04T08:00","d":322},{"t":"2020-01-04T10:00","d":316},{"t":"2020-01-04T12:00","d":307},{"t":"2020-01-04T14:00","d":325},{"t":"2020-01-04T16:00","d":327},{"t":"2020-01-04T19:00","d":319},{"t":"2020-01-04T21:00","d":307},
{"t":"2020-01-05T00:00","d":301},{"t":"2020-01-05T03:00","d":295},{"t":"2020-01-05T05:00","d":289},{"t":"2020-01-05T08:00","d":283},{"t":"2020-01-05T10:00","d":255},{"t":"2020-01-05T12:00","d":236},{"t":"2020-01-05T14:00","d":230},{"t":"2020-01-05T16:00","d":221},{"t":"2020-01-05T18:00","d":227},{"t":"2020-01-05T20:00","d":233},{"t":"2020-01-05T21:00","d":239},{"t":"2020-01-05T23:00","d":242},
{"t":"2020-01-06T01:00","d":245},{"t":"2020-01-06T04:00","d":246},{"t":"2020-01-06T06:00","d":242},{"t":"2020-01-06T09:00","d":236},{"t":"2020-01-06T11:00","d":239},{"t":"2020-01-06T14:00","d":242},{"t":"2020-01-06T16:00","d":233},{"t":"2020-01-06T19:00","d":224},{"t":"2020-01-06T21:00","d":219},
{"t":"2020-01-07T00:00","d":213},{"t":"2020-01-07T02:00","d":219},{"t":"2020-01-07T05:00","d":227},{"t":"2020-01-07T08:00","d":230},{"t":"2020-01-07T10:00","d":233},{"t":"2020-01-07T13:00","d":236},{"t":"2020-01-07T14:00","d":242},{"t":"2020-01-07T16:00","d":239},{"t":"2020-01-07T18:00","d":227},{"t":"2020-01-07T21:00","d":216},{"t":"2020-01-07T23:00","d":207},
{"t":"2020-01-08T01:00","d":219},{"t":"2020-01-08T04:00","d":224},{"t":"2020-01-08T06:00","d":233},{"t":"2020-01-08T09:00","d":236},{"t":"2020-01-08T11:00","d":242},{"t":"2020-01-08T14:00","d":245},{"t":"2020-01-08T16:00","d":248},{"t":"2020-01-08T19:00","d":251},{"t":"2020-01-08T21:00","d":248},
{"t":"2020-01-09T00:00","d":254},{"t":"2020-01-09T02:00","d":257},{"t":"2020-01-09T04:00","d":221},{"t":"2020-01-09T06:00","d":204},{"t":"2020-01-09T08:00","d":183},{"t":"2020-01-09T09:00","d":160},{"t":"2020-01-09T10:00","d":139},{"t":"2020-01-09T11:00","d":130},{"t":"2020-01-09T14:00","d":213},{"t":"2020-01-09T16:00","d":192},{"t":"2020-01-09T17:00","d":183},{"t":"2020-01-09T19:00","d":201},{"t":"2020-01-09T20:00","d":210},{"t":"2020-01-09T22:00","d":207},
{"t":"2020-01-10T00:00","d":213},{"t":"2020-01-10T03:00","d":216},{"t":"2020-01-10T06:00","d":248},{"t":"2020-01-10T07:00","d":236},{"t":"2020-01-10T09:00","d":280},{"t":"2020-01-10T11:00","d":278},{"t":"2020-01-10T13:00","d":298},{"t":"2020-01-10T14:00","d":307},{"t":"2020-01-10T16:00","d":313},{"t":"2020-01-10T18:00","d":323},{"t":"2020-01-10T20:00","d":339},{"t":"2020-01-10T21:00","d":351},{"t":"2020-01-10T23:00","d":343},
{"t":"2020-01-11T01:00","d":36},{"t":"2020-01-11T02:00","d":27},{"t":"2020-01-11T03:00","d":30},{"t":"2020-01-11T04:00","d":24},{"t":"2020-01-11T05:00","d":300},{"t":"2020-01-11T06:00","d":283},{"t":"2020-01-11T08:00","d":260},{"t":"2020-01-11T09:00","d":245},{"t":"2020-01-11T10:00","d":224},{"t":"2020-01-11T12:00","d":210},{"t":"2020-01-11T14:00","d":219},{"t":"2020-01-11T16:00","d":227},{"t":"2020-01-11T19:00","d":230},{"t":"2020-01-11T21:00","d":236},
{"t":"2020-01-12T00:00","d":239},{"t":"2020-01-12T03:00","d":242},{"t":"2020-01-12T05:00","d":236},{"t":"2020-01-12T08:00","d":245},{"t":"2020-01-12T10:00","d":239},{"t":"2020-01-12T13:00","d":242},{"t":"2020-01-12T15:00","d":245},{"t":"2020-01-12T18:00","d":248},{"t":"2020-01-12T20:00","d":260},{"t":"2020-01-12T21:00","d":275},{"t":"2020-01-12T23:00","d":291},
{"t":"2020-01-13T01:00","d":283},{"t":"2020-01-13T02:00","d":272},{"t":"2020-01-13T04:00","d":260},{"t":"2020-01-13T06:00","d":248},{"t":"2020-01-13T07:00","d":242},{"t":"2020-01-13T08:00","d":236},{"t":"2020-01-13T10:00","d":227},{"t":"2020-01-13T12:00","d":213},{"t":"2020-01-13T13:00","d":201},{"t":"2020-01-13T15:00","d":195},{"t":"2020-01-13T17:00","d":189},{"t":"2020-01-13T20:00","d":195},{"t":"2020-01-13T21:00","d":183},{"t":"2020-01-13T23:00","d":171},
{"t":"2020-01-14T01:00","d":168},{"t":"2020-01-14T02:00","d":180},{"t":"2020-01-14T04:00","d":189},{"t":"2020-01-14T05:00","d":195},{"t":"2020-01-14T07:00","d":201},{"t":"2020-01-14T08:00","d":183},{"t":"2020-01-14T09:00","d":201},{"t":"2020-01-14T11:00","d":216},{"t":"2020-01-14T13:00","d":221},{"t":"2020-01-14T15:00","d":232},{"t":"2020-01-14T16:00","d":213},{"t":"2020-01-14T18:00","d":189},{"t":"2020-01-14T19:00","d":195},{"t":"2020-01-14T21:00","d":201},{"t":"2020-01-14T23:00","d":207},
{"t":"2020-01-15T02:00","d":210},{"t":"2020-01-15T04:00","d":207},{"t":"2020-01-15T07:00","d":213},{"t":"2020-01-15T09:00","d":210},{"t":"2020-01-15T12:00","d":207},{"t":"2020-01-15T14:00","d":213},{"t":"2020-01-15T17:00","d":216},{"t":"2020-01-15T19:00","d":227},{"t":"2020-01-15T20:00","d":292},{"t":"2020-01-15T22:00","d":278},
{"t":"2020-01-16T00:00","d":258},{"t":"2020-01-16T02:00","d":248},{"t":"2020-01-16T04:00","d":245},{"t":"2020-01-16T07:00","d":242},{"t":"2020-01-16T09:00","d":236},{"t":"2020-01-16T12:00","d":230},{"t":"2020-01-16T14:00","d":224},{"t":"2020-01-16T17:00","d":221},{"t":"2020-01-16T19:00","d":211},{"t":"2020-01-16T20:00","d":191},{"t":"2020-01-16T22:00","d":183},
{"t":"2020-01-17T01:00","d":180},{"t":"2020-01-17T03:00","d":177},{"t":"2020-01-17T06:00","d":174},{"t":"2020-01-17T08:00","d":171},{"t":"2020-01-17T11:00","d":166},{"t":"2020-01-17T13:00","d":157},{"t":"2020-01-17T14:00","d":151},{"t":"2020-01-17T16:00","d":171},{"t":"2020-01-17T18:00","d":183},{"t":"2020-01-17T20:00","d":189},{"t":"2020-01-17T21:00","d":198},{"t":"2020-01-17T23:00","d":207},
{"t":"2020-01-18T00:00","d":216},{"t":"2020-01-18T01:00","d":224},{"t":"2020-01-18T03:00","d":236},{"t":"2020-01-18T05:00","d":245},{"t":"2020-01-18T07:00","d":236},{"t":"2020-01-18T09:00","d":239},{"t":"2020-01-18T11:00","d":242},{"t":"2020-01-18T13:00","d":236},{"t":"2020-01-18T16:00","d":242},{"t":"2020-01-18T18:00","d":248},{"t":"2020-01-18T20:00","d":257},{"t":"2020-01-18T22:00","d":266},
{"t":"2020-01-19T00:00","d":272},{"t":"2020-01-19T02:00","d":278},{"t":"2020-01-19T04:00","d":280},{"t":"2020-01-19T06:00","d":283},{"t":"2020-01-19T08:00","d":301},{"t":"2020-01-19T10:00","d":304},{"t":"2020-01-19T12:00","d":302},{"t":"2020-01-19T15:00","d":304},{"t":"2020-01-19T16:00","d":302},{"t":"2020-01-19T18:00","d":301},{"t":"2020-01-19T21:00","d":292},{"t":"2020-01-19T23:00","d":283},
{"t":"2020-01-20T02:00","d":281},{"t":"2020-01-20T04:00","d":266},{"t":"2020-01-20T06:00","d":260},{"t":"2020-01-20T08:00","d":257},{"t":"2020-01-20T10:00","d":251},{"t":"2020-01-20T12:00","d":236},{"t":"2020-01-20T14:00","d":245},{"t":"2020-01-20T16:00","d":251},{"t":"2020-01-20T18:00","d":260},{"t":"2020-01-20T21:00","d":266},{"t":"2020-01-20T23:00","d":272},
{"t":"2020-01-21T02:00","d":275},{"t":"2020-01-21T04:00","d":278},{"t":"2020-01-21T07:00","d":286},{"t":"2020-01-21T09:00","d":280},{"t":"2020-01-21T12:00","d":272},{"t":"2020-01-21T15:00","d":278},{"t":"2020-01-21T17:00","d":283},{"t":"2020-01-21T20:00","d":278},{"t":"2020-01-21T22:00","d":283},
{"t":"2020-01-22T01:00","d":283},{"t":"2020-01-22T02:00","d":280},{"t":"2020-01-22T04:00","d":295},{"t":"2020-01-22T07:00","d":301},{"t":"2020-01-22T09:00","d":310},{"t":"2020-01-22T11:00","d":307},{"t":"2020-01-22T13:00","d":327},{"t":"2020-01-22T14:00","d":339},{"t":"2020-01-22T15:00","d":330},{"t":"2020-01-22T17:00","d":304},{"t":"2020-01-22T20:00","d":301},{"t":"2020-01-22T22:00","d":295},
{"t":"2020-01-23T01:00","d":283},{"t":"2020-01-23T03:00","d":272},{"t":"2020-01-23T06:00","d":260},{"t":"2020-01-23T08:00","d":275},{"t":"2020-01-23T11:00","d":269},{"t":"2020-01-23T13:00","d":263},{"t":"2020-01-23T16:00","d":260},{"t":"2020-01-23T18:00","d":254},{"t":"2020-01-23T21:00","d":248},{"t":"2020-01-23T23:00","d":254},
{"t":"2020-01-24T02:00","d":251},{"t":"2020-01-24T04:00","d":242},{"t":"2020-01-24T07:00","d":248},{"t":"2020-01-24T09:00","d":251},{"t":"2020-01-24T12:00","d":257},{"t":"2020-01-24T14:00","d":263},{"t":"2020-01-24T17:00","d":266},{"t":"2020-01-24T20:00","d":260},{"t":"2020-01-24T22:00","d":272},
{"t":"2020-01-25T01:00","d":275},{"t":"2020-01-25T03:00","d":277},{"t":"2020-01-25T06:00","d":266},{"t":"2020-01-25T08:00","d":260},{"t":"2020-01-25T11:00","d":254},{"t":"2020-01-25T13:00","d":248},{"t":"2020-01-25T16:00","d":248},{"t":"2020-01-25T18:00","d":245},{"t":"2020-01-25T21:00","d":242},{"t":"2020-01-25T23:00","d":242},
{"t":"2020-01-26T02:00","d":239},{"t":"2020-01-26T04:00","d":245},{"t":"2020-01-26T07:00","d":239},{"t":"2020-01-26T09:00","d":236},{"t":"2020-01-26T12:00","d":227},{"t":"2020-01-26T13:00","d":216},{"t":"2020-01-26T15:00","d":210},{"t":"2020-01-26T17:00","d":204},{"t":"2020-01-26T19:00","d":195},{"t":"2020-01-26T21:00","d":204},{"t":"2020-01-26T23:00","d":198},
{"t":"2020-01-27T01:00","d":189},{"t":"2020-01-27T02:00","d":195},{"t":"2020-01-27T04:00","d":189},{"t":"2020-01-27T06:00","d":174},{"t":"2020-01-27T08:00","d":183},{"t":"2020-01-27T10:00","d":207},{"t":"2020-01-27T12:00","d":213},{"t":"2020-01-27T14:00","d":201},{"t":"2020-01-27T16:00","d":221},{"t":"2020-01-27T18:00","d":213},{"t":"2020-01-27T20:00","d":201},{"t":"2020-01-27T21:00","d":189},{"t":"2020-01-27T23:00","d":180},
{"t":"2020-01-28T01:00","d":174},{"t":"2020-01-28T03:00","d":168},{"t":"2020-01-28T05:00","d":160},{"t":"2020-01-28T07:00","d":183},{"t":"2020-01-28T09:00","d":186},{"t":"2020-01-28T11:00","d":195},{"t":"2020-01-28T13:00","d":204},{"t":"2020-01-28T14:00","d":210},{"t":"2020-01-28T16:00","d":216},{"t":"2020-01-28T18:00","d":233},{"t":"2020-01-28T20:00","d":248},{"t":"2020-01-28T22:00","d":257},
{"t":"2020-01-29T00:00","d":266},{"t":"2020-01-29T02:00","d":263},{"t":"2020-01-29T04:00","d":269},{"t":"2020-01-29T06:00","d":254},{"t":"2020-01-29T08:00","d":260},{"t":"2020-01-29T09:00","d":248},{"t":"2020-01-29T11:00","d":269},{"t":"2020-01-29T13:00","d":275},{"t":"2020-01-29T15:00","d":263},{"t":"2020-01-29T17:00","d":257},{"t":"2020-01-29T19:00","d":248},{"t":"2020-01-29T21:00","d":242},{"t":"2020-01-29T23:00","d":245},
{"t":"2020-01-30T01:00","d":230},{"t":"2020-01-30T02:00","d":224},{"t":"2020-01-30T04:00","d":219},{"t":"2020-01-30T06:00","d":230},{"t":"2020-01-30T08:00","d":236},{"t":"2020-01-30T10:00","d":260},{"t":"2020-01-30T12:00","d":263},{"t":"2020-01-30T14:00","d":297},{"t":"2020-01-30T16:00","d":242},{"t":"2020-01-30T18:00","d":230},{"t":"2020-01-30T20:00","d":207},{"t":"2020-01-30T21:00","d":195},{"t":"2020-01-30T23:00","d":216},
{"t":"2020-01-31T01:00","d":263},{"t":"2020-01-31T03:00","d":275},{"t":"2020-01-31T05:00","d":280},{"t":"2020-01-31T07:00","d":286},{"t":"2020-01-31T09:00","d":275},{"t":"2020-01-31T11:00","d":269},{"t":"2020-01-31T13:00","d":254},{"t":"2020-01-31T14:00","d":236},{"t":"2020-01-31T16:00","d":227},{"t":"2020-01-31T18:00","d":250},{"t":"2020-01-31T20:00","d":240},{"t":"2020-01-31T22:00","d":258}
]
},
"layer": [
{
 "data": {"name": "ws"},
 "mark": {"type": "line", "strokeWidth": 2},
 "encoding": {
  "x": {"field": "t", "type": "temporal",
   "scale": {"domain": [{"year": 2019, "month": 11, "date": 19, "hours": 12}, {"year": 2020, "month": 2, "date": 4, "hours": 12}]},
   "axis": {"title": null, "format": "%Y-%m-%d", "labelAngle": -30, "labelAlign": "center", "labelBaseline": "middle", "labelPadding": 36, "grid": true,
    "values": [{"year": 2019, "month": 11, "date": 21}, {"year": 2019, "month": 11, "date": 28}, {"year": 2019, "month": 12, "date": 5}, {"year": 2019, "month": 12, "date": 12}, {"year": 2019, "month": 12, "date": 19}, {"year": 2019, "month": 12, "date": 26}, {"year": 2020, "month": 1, "date": 2}, {"year": 2020, "month": 1, "date": 9}, {"year": 2020, "month": 1, "date": 16}, {"year": 2020, "month": 1, "date": 23}, {"year": 2020, "month": 1, "date": 30}]}},
  "y": {"field": "v", "type": "quantitative",
   "scale": {"domain": [-0.99, 21.31], "nice": false, "zero": false},
   "axis": {"title": "Vindhastighet [m/s]", "titlePadding": 11, "format": ".1f", "grid": true, "values": [0, 2.5, 5, 7.5, 10, 12.5, 15, 17.5, 20]}},
  "stroke": {"datum": "Vindhastighet", "type": "nominal", "scale": {"range": ["#1f77b4"]},
   "legend": {"title": null, "orient": "none", "legendX": 593, "legendY": -36, "symbolType": "stroke", "symbolSize": 1444, "symbolStrokeWidth": 2, "labelOffset": 13}}
 }
},
{
 "data": {"name": "wd"},
 "mark": {"type": "point", "filled": true, "size": 36, "opacity": 1},
 "encoding": {
  "x": {"field": "t", "type": "temporal"},
  "y": {"field": "d", "type": "quantitative",
   "scale": {"domain": [0, 360], "nice": false, "zero": false},
   "axis": {"orient": "right", "title": "Vindriktning [°]", "titleAngle": 270, "titlePadding": 14, "grid": false, "values": [0, 60, 120, 180, 240, 300, 360]}},
  "fill": {"datum": "Vindriktning", "type": "nominal", "scale": {"range": ["#a52a2a"]},
   "legend": {"title": null, "orient": "none", "legendX": 819, "legendY": -26, "symbolType": "circle", "symbolSize": 49, "labelOffset": 21}}
 }
}
],
"resolve": {"scale": {"y": "independent"}}
}
